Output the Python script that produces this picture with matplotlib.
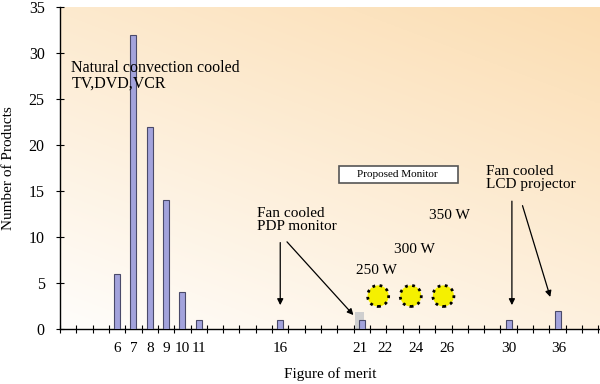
import numpy as np
import matplotlib.pyplot as plt
from matplotlib.patches import Rectangle

plt.rcParams['font.family'] = ['Liberation Serif', 'DejaVu Serif']

# figure of merit -> number of products
merit = [6, 7, 8, 9, 10, 11, 16, 21, 30, 36]
products = [6, 32, 22, 14, 4, 1, 1, 1, 1, 2]
# category slot on the (uneven) merit axis
slot = [3, 4, 5, 6, 7, 8, 13, 18, 27, 30]

tick_labels = ['6', '7', '8', '9', '10', '11', '16', '21', '22', '24', '26', '30', '36']
tick_slot = [3, 4, 5, 6, 7, 8, 13, 17.9, 19.4, 21.3, 23.2, 27, 30.1]

# proposed monitor at 250/300/350 W
proposed_merit = [22, 24, 26]
proposed_slot = [19, 21, 23]
proposed_level = [3.6, 3.6, 3.6]
power_labels = ['250 W', '300 W', '350 W']
power_pos = [(18.9, 6.4), (21.2, 8.7), (23.4, 12.3)]

fig = plt.figure(figsize=(6, 3.84), dpi=100)
ax = fig.add_axes([0.1, 0.143, 0.9, 0.839])

xmin, xmax = -0.5, 32.6
ymin, ymax = 0, 35

# peach gradient background
yy, xx = np.mgrid[0:1:200j, 0:1:200j]
t = np.clip(0.05 + 0.55 * yy + 0.35 * xx, 0, 1)
peach = np.array([0.985, 0.86, 0.68])
img = 1 - t[..., None] * (1 - peach)
ax.imshow(img, origin='lower', extent=[xmin, xmax, ymin, ymax], aspect='auto', zorder=0)

# gray marker for proposed monitor
ax.bar(17.85, 1.9, width=0.55, color='#cfcfcf', edgecolor='none', zorder=2)

ax.bar(slot, products, width=0.37, color='#a3a3dc', edgecolor='#4a4a6a', linewidth=0.8, zorder=3)

ax.scatter(proposed_slot, proposed_level, s=230, c='#f5f000', edgecolors='black',
           linewidths=2, linestyles=(0, (1, 1.6)), zorder=4)

for lab, (px, py) in zip(power_labels, power_pos):
    ax.text(px, py, lab, ha='center', va='center', fontsize=11)

ax.text(0.2, 27.5, 'Natural convection cooled\nTV,DVD,VCR', fontsize=11.5, va='center',
        linespacing=1.0)
ax.text(11.6, 11.9, 'Fan cooled\nPDP monitor', fontsize=11, va='center', linespacing=1.0)
ax.text(25.6, 16.4, 'Fan cooled\nLCD projector', fontsize=11, va='center', linespacing=1.0)

ax.add_patch(Rectangle((16.6, 15.9), 7.3, 1.8, fc='white', ec='#555555', lw=1.2, zorder=4))
ax.text(20.2, 16.8, 'Proposed Monitor', fontsize=8, ha='center', va='center', zorder=5)

arrow = dict(arrowstyle='-|>', color='black', lw=0.9, mutation_scale=9)
ax.annotate('', xy=(13, 2.3), xytext=(13, 9.7), arrowprops=arrow)
ax.annotate('', xy=(17.6, 1.3), xytext=(13.3, 9.7), arrowprops=arrow)
ax.annotate('', xy=(27.2, 2.3), xytext=(27.2, 14.2), arrowprops=arrow)
ax.annotate('', xy=(29.6, 3.2), xytext=(27.8, 13.7), arrowprops=arrow)

ax.set_xlim(xmin, xmax)
ax.set_ylim(ymin, ymax)
ax.set_yticks(range(0, 36, 5))
ax.set_xticks(tick_slot)
ax.set_xticklabels(tick_labels)
ax.set_xticks(np.arange(-0.5, 33, 1), minor=True)
ax.tick_params(axis='x', which='major', length=0, pad=9, labelsize=11)
ax.tick_params(axis='x', which='minor', direction='inout', length=6, width=0.8)
ax.tick_params(axis='y', direction='inout', length=6, width=0.8, labelsize=11.5, pad=8)

for s in ['top', 'right']:
    ax.spines[s].set_visible(False)
ax.spines['left'].set_linewidth(1.0)
ax.spines['bottom'].set_linewidth(1.0)

ax.set_xlabel('Figure of merit', fontsize=11, labelpad=9)
ax.set_ylabel('Number of Products', fontsize=11, labelpad=10)

fig.savefig('out.png', dpi=100)
